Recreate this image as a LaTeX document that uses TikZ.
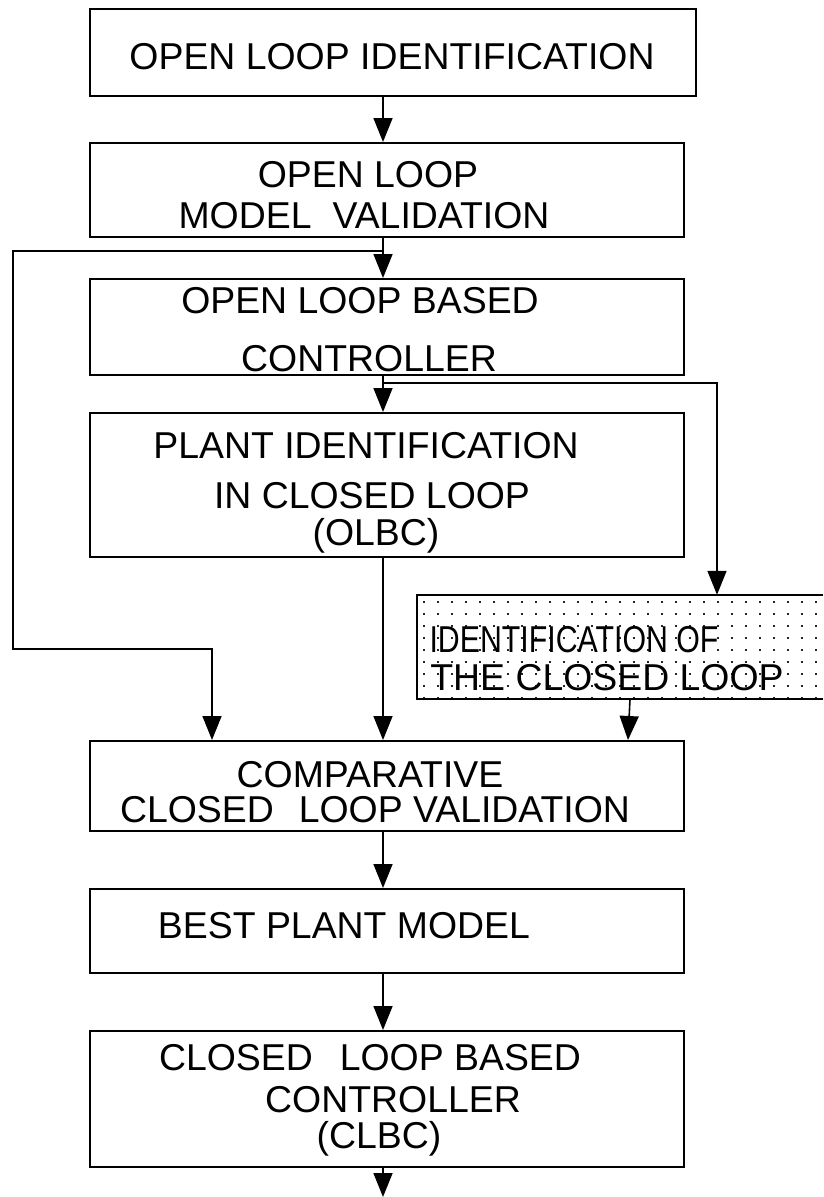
\documentclass[tikz,border=0pt]{standalone}
\usepackage{fontspec}
\setmainfont{Liberation Sans}
\usetikzlibrary{arrows.meta}
\begin{document}
\begin{tikzpicture}[x=1pt,y=-1pt,
  box/.style={draw,line width=2pt,inner sep=0pt,minimum width=594pt},
  txt/.style={anchor=base,inner sep=0pt,font=\fontsize{37.4}{44}\selectfont},
  conn/.style={line width=1.6pt},
  arr/.style={conn,-{Triangle[length=24pt,width=19pt]}}]
\useasboundingbox (0,0) rectangle (823,1197);

% process boxes
\node[box,minimum width=606pt,minimum height=87pt] (b1) at (393,52.5) {};
\node[box,minimum height=94pt]  (b2) at (387,190) {};
\node[box,minimum height=96pt]  (b3) at (387,327) {};
\node[box,minimum height=144pt] (b4) at (387,485) {};
\node[box,minimum height=90pt]  (b5) at (387,786) {};
\node[box,minimum height=84pt]  (b6) at (387,931) {};
\node[box,minimum height=136pt] (b7) at (387,1099) {};

% shaded box with dot raster
\node[inner sep=0pt,minimum width=406pt,minimum height=104pt,fill=white] (dbox) at (620,647) {};
\begin{scope}
  \clip (dbox.north west) rectangle (dbox.south east);
  \foreach \i in {0,...,29}{
    \foreach \j in {0,...,8}{
      \fill[black!85] (423+14*\i,601+12*\j) rectangle ++(2,2);
    }
  }
\end{scope}
\draw[line width=1.6pt] (dbox.north east) -- (dbox.north west) -- (dbox.south west) -- (dbox.south east);

% labels
\node[txt] (t1)  at (392,69)   {OPEN LOOP IDENTIFICATION};
\node[txt] (t2a) at (368,187)  {OPEN LOOP};
\node[txt] (t2b) at (364,228)  {MODEL\hspace{21pt}VALIDATION};
\node[txt] (t3a) at (360,313)  {OPEN LOOP BASED};
\node[txt] (t3b) at (369,371)  {CONTROLLER};
\node[txt] (t4a) at (366,458)  {PLANT IDENTIFICATION};
\node[txt] (t4b) at (372,508)  {IN CLOSED LOOP};
\node[txt] (t4c) at (376,545)  {(OLBC)};
\node[txt] (t5a) at (370,787)  {COMPARATIVE};
\node[txt] (t5b) at (375,822)  {CLOSED\hspace{25pt}LOOP VALIDATION};
\node[txt] (t6)  at (344,938)  {BEST PLANT MODEL};
\node[txt] (t7a) at (370,1070) {CLOSED\hspace{27pt}LOOP BASED};
\node[txt] (t7b) at (393,1112) {CONTROLLER};
\node[txt] (t7c) at (379,1148) {(CLBC)};
\node[txt] (td1) at (574,652)  {\scalebox{0.81}[1]{IDENTIFICATION OF}};
\node[txt] (td2) at (607,690)  {THE CLOSED LOOP};

% reference points for the connectors
\coordinate (spine) at (383,0);
\coordinate (j1) at (383,251);
\coordinate (j2) at (383,383);
\coordinate (lx) at (13,0);
\coordinate (ly) at (0,649);
\coordinate (fx) at (212,0);
\coordinate (rx) at (717,0);
\coordinate (sx) at (628,0);
\coordinate (out) at (383,1197);

% main flow
\draw[arr] (b1.south -| spine) -- (b2.north -| spine);
\draw[arr] (b2.south -| spine) -- (b3.north -| spine);
\draw[arr] (b3.south -| spine) -- (b4.north -| spine);
\draw[arr] (b4.south -| spine) -- (b5.north -| spine);
\draw[arr] (b5.south -| spine) -- (b6.north -| spine);
\draw[arr] (b6.south -| spine) -- (b7.north -| spine);
\draw[arr] (b7.south -| spine) -- (out);

% side branches
\draw[arr] (j1) -- (j1 -| lx) -- (lx |- ly) -- (fx |- ly) -- (b5.north -| fx);
\draw[arr] (j2) -| (dbox.north -| rx);
\draw[arr] ([xshift=10pt]dbox.south) -- (b5.north -| sx);
\end{tikzpicture}
\end{document}
